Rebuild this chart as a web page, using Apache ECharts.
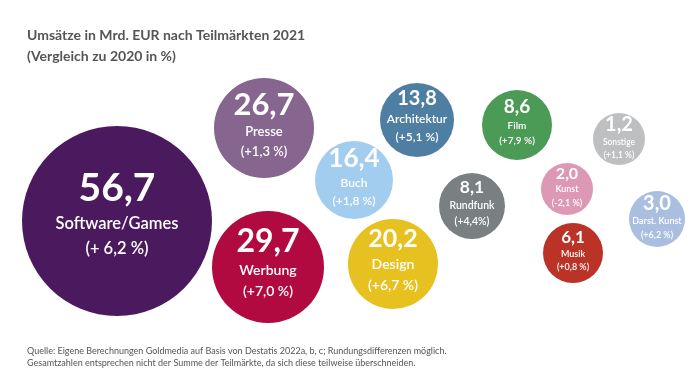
<!DOCTYPE html>
<html><head><meta charset="utf-8">
<script src="https://cdn.jsdelivr.net/npm/echarts@6/dist/echarts.min.js"></script>
<style>html,body{margin:0;padding:0;background:#fff}#c{width:699px;height:382px}</style>
</head><body><div id="c"></div>
<script>
// Data
const markets = ['Software/Games','Presse','Werbung','Buch','Design','Architektur','Film','Rundfunk','Kunst','Musik','Sonstige','Darst. Kunst'];
const revenue = [56.7, 26.7, 29.7, 16.4, 20.2, 13.8, 8.6, 8.1, 2.0, 6.1, 1.2, 3.0];
const changeLabels = ['(+ 6,2 %)','(+1,3 %)','(+7,0 %)','(+1,8 %)','(+6,7 %)','(+5,1 %)','(+7,9 %)','(+4,4%)','(-2,1 %)','(+0,8 %)','(+1,1 %)','(+6,2 %)'];

// Layout (bubble packing positions, in layout units)
const layoutX = [117, 264, 268, 354, 393, 417, 517, 472, 567, 573, 619, 657];
const layoutY = [221, 128, 267, 180, 264, 120, 125, 206, 189, 253, 139, 219];
const radius  = [95, 50, 56, 39, 45, 37, 35, 33, 26, 30, 26, 28];
const colors  = ['#4b1a5e','#86658f','#b10a40','#a3cdef','#e6c11f','#4f7ea3','#4b9a56','#7a7f82','#dd98b5','#bb3226','#bebfc1','#aabfe0'];
const valueFont = [39, 31, 32, 26, 25, 20, 19, 17.5, 16, 17, 20, 20];
const nameFont  = [16.5, 13, 14, 12, 14, 12, 10, 10.5, 9, 9, 8.5, 9];

const fmt = v => v.toFixed(1).replace('.', ',');
const FONT = 'Lato, "Noto Sans", sans-serif';

const data = markets.map((m, i) => ({
  value: [layoutX[i], layoutY[i], revenue[i]],
  symbolSize: radius[i] * 2,
  itemStyle: { color: colors[i], opacity: 1 },
  label: {
    show: true,
    position: 'inside',
    offset: [0, -0.08 * radius[i]],
    formatter: '{v|' + fmt(revenue[i]) + '}\n{n|' + m + '}\n{c|' + changeLabels[i] + '}',
    rich: {
      v: { fontSize: valueFont[i], fontWeight: 'bold', color: '#fff', fontFamily: FONT, lineHeight: valueFont[i] * 1.15 },
      n: { fontSize: nameFont[i], fontWeight: 600, color: '#fff', fontFamily: FONT, lineHeight: nameFont[i] * 1.5 },
      c: { fontSize: nameFont[i], fontWeight: 600, color: '#fff', fontFamily: FONT, lineHeight: nameFont[i] * 1.5 }
    }
  }
}));

const chart = echarts.init(document.getElementById('c'), null, { renderer: 'canvas' });
chart.setOption({
  animation: false,
  title: [
    { text: 'Umsätze in Mrd. EUR nach Teilmärkten 2021\n(Vergleich zu 2020 in %)', left: 22, top: 20,
      textStyle: { fontFamily: FONT, fontSize: 14, fontWeight: 'bold', color: '#555', lineHeight: 21 } },
    { text: 'Quelle: Eigene Berechnungen Goldmedia auf Basis von Destatis 2022a, b, c; Rundungsdifferenzen möglich.\nGesamtzahlen entsprechen nicht der Summe der Teilmärkte, da sich diese teilweise überschneiden.', left: 22, top: 340,
      textStyle: { fontFamily: FONT, fontSize: 9, fontWeight: 'normal', color: '#555', lineHeight: 12 } }
  ],
  grid: { left: 0, right: 0, top: 0, bottom: 0 },
  xAxis: { type: 'value', min: 0, max: 699, show: false },
  yAxis: { type: 'value', min: 0, max: 382, inverse: true, show: false },
  series: [{ type: 'scatter', symbol: 'circle', emphasis: { disabled: true }, data: data }]
});
</script></body></html>
